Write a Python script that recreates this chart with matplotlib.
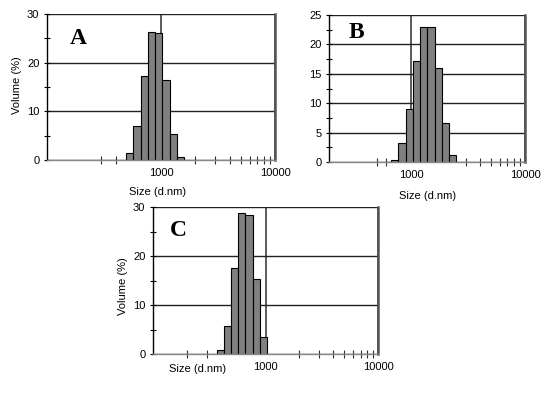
import numpy as np
import matplotlib
matplotlib.use("Agg")
import matplotlib.pyplot as plt
from matplotlib.ticker import FixedLocator, NullFormatter

plt.rcParams['font.family'] = ['Liberation Sans', 'DejaVu Sans']

# Bin centres (Zetasizer size classes, d.nm) and volume (%)
sizes_A = [531.2, 615.1, 712.4, 825.0, 955.4, 1106, 1281, 1484]
vol_A = [1.35, 7.05, 17.3, 26.2, 26.0, 16.4, 5.4, 0.7]

sizes_B = [712.4, 825.0, 955.4, 1106, 1281, 1484, 1718, 1990, 2305]
vol_B = [0.35, 3.2, 9.05, 17.1, 22.9, 22.9, 15.95, 6.7, 1.2]

sizes_C = [396.1, 458.7, 531.2, 615.1, 712.4, 825.0, 955.4]
vol_C = [0.75, 5.7, 17.5, 28.8, 28.3, 15.3, 3.4]

ratio = 1.1581  # log-step between size classes

W, H = 555, 399
fig = plt.figure(figsize=(W / 100, H / 100), dpi=100)


def box(l, t, r, b):
    return [l / W, (H - b) / H, (r - l) / W, (b - t) / H]


def panel(rect, sizes, vols, xlim, ymax, ystep, letter, letter_xy,
          minor_x, ylabel_xy, xlabel_xy):
    ax = fig.add_axes(rect)
    c = np.array(sizes, dtype=float)
    left = c / np.sqrt(ratio)
    width = c * np.sqrt(ratio) - left
    ax.bar(left, vols, width=width, align='edge', color='#808080',
           edgecolor='black', linewidth=0.8, zorder=2)
    ax.set_xscale('log')
    ax.set_xlim(*xlim)
    ax.set_ylim(0, ymax)
    ax.xaxis.set_major_locator(FixedLocator([1000, 10000]))
    ax.xaxis.set_major_formatter(matplotlib.ticker.FixedFormatter(['1000', '10000']))
    ax.xaxis.set_minor_locator(FixedLocator(minor_x))
    ax.xaxis.set_minor_formatter(NullFormatter())
    ax.set_yticks(np.arange(0, ymax + 0.01, ystep))
    ax.set_yticks(np.arange(ystep / 2, ymax, ystep), minor=True)
    ax.tick_params(axis='x', which='major', length=0, labelsize=8, pad=6)
    ax.tick_params(axis='x', which='minor', direction='inout', length=6,
                   width=0.8, color='#303030')
    ax.tick_params(axis='y', which='major', direction='inout', length=5,
                   width=0.8, labelsize=8, pad=3)
    ax.tick_params(axis='y', which='minor', direction='inout', length=5,
                   width=0.8)
    ax.set_axisbelow(True)
    ax.grid(axis='y', which='major', color='#202020', linewidth=1.0)
    ax.grid(axis='x', which='major', color='#404040', linewidth=1.2)
    ax.spines['top'].set_visible(False)
    ax.spines['right'].set_color('#555555')
    ax.spines['right'].set_linewidth(1.8)
    ax.spines['left'].set_color('black')
    ax.spines['left'].set_linewidth(1.0)
    ax.spines['bottom'].set_color('#888888')
    ax.spines['bottom'].set_linewidth(1.0)
    ax.text(letter_xy[0], letter_xy[1], letter, transform=ax.transAxes,
            ha='center', va='center', fontsize=17, fontweight='bold',
            family='Liberation Serif')
    if ylabel_xy is not None:
        ax.set_ylabel('Volume (%)', fontsize=8)
        ax.yaxis.set_label_coords(*ylabel_xy)
    ax.set_xlabel('Size (d.nm)', fontsize=8)
    ax.xaxis.set_label_coords(*xlabel_xy)
    return ax


# Panel A
lA, tA, rA, bA = 47, 14, 275, 160
panel(box(lA, tA, rA, bA), sizes_A, vol_A, (100, 10000), 30, 10, 'A',
      ((78 - lA) / (rA - lA), 1 - (38 - tA) / (bA - tA)),
      [300, 400, 2000, 3000, 4000, 5000, 6000, 7000, 8000, 9000],
      ((22 - lA) / (rA - lA), 0.51), (0.487, -0.185))

# Panel B
lB, tB, rB, bB = 329, 15, 525, 162
panel(box(lB, tB, rB, bB), sizes_B, vol_B, (188, 10000), 25, 5, 'B',
      ((356 - lB) / (rB - lB), 1 - (32 - tB) / (bB - tB)),
      [500, 600, 3000, 4000, 5000, 6000, 7000, 8000, 9000],
      None, (0.504, -0.197))

# Panel C
lC, tC, rC, bC = 153, 207, 378, 354
panel(box(lC, tC, rC, bC), sizes_C, vol_C, (100, 10000), 30, 10, 'C',
      ((178 - lC) / (rC - lC), 1 - (230 - tC) / (bC - tC)),
      [200, 300, 2000, 3000, 4000, 5000, 6000, 7000, 8000, 9000],
      ((128 - lC) / (rC - lC), 0.46), (0.2, -0.065))

fig.savefig('out.png', dpi=100)
